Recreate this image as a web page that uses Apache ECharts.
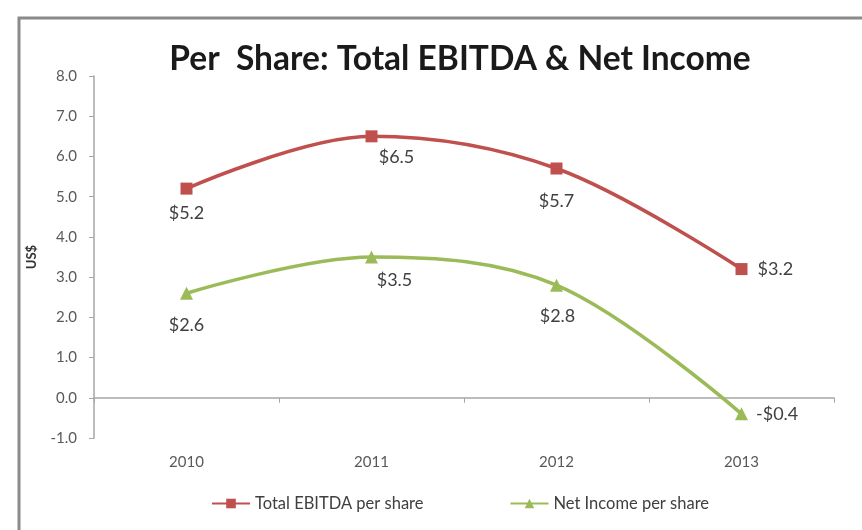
<!DOCTYPE html>
<html>
<head>
<meta charset="utf-8">
<script src="https://cdn.jsdelivr.net/npm/echarts@6/dist/echarts.min.js"></script>
<style>
  html, body { margin: 0; padding: 0; background: #ffffff; }
  #chart { width: 862px; height: 530px; }
</style>
</head>
<body>
<div id="chart"></div>
<script>
// Fiscal years on the category axis
const years = ['2010', '2011', '2012', '2013'];
// Per-share values (US$)
const ebitdaPerShare = [5.2, 6.5, 5.7, 3.2];
const netIncomePerShare = [2.6, 3.5, 2.8, -0.4];
// Value axis range
const yMin = -1;
const yMax = 8;
const yStep = 1;

// Where each data label sits relative to its point
const ebitdaLabelPlace = [
  { position: 'bottom', offset: [0, 5] },
  { position: 'bottom', offset: [25, 1] },
  { position: 'bottom', offset: [0, 13] },
  { position: 'right', offset: [5, 0] }
];
const incomeLabelPlace = [
  { position: 'bottom', offset: [0, 11] },
  { position: 'bottom', offset: [23, 3] },
  { position: 'bottom', offset: [1, 11] },
  { position: 'right', offset: [3, 0] }
];

function money(v) {
  return (v < 0 ? '-$' : '$') + Math.abs(v).toFixed(1);
}

function withLabels(values, places) {
  return values.map((v, i) => ({
    value: v,
    label: { position: places[i].position, offset: places[i].offset }
  }));
}

const FONT = 'Lato, "Open Sans", sans-serif';
const RED = '#c0504d';
const GREEN = '#9bbb59';

const chart = echarts.init(document.getElementById('chart'), null, { renderer: 'canvas' });

chart.setOption({
  backgroundColor: '#ffffff',
  animation: false,
  textStyle: { fontFamily: FONT },
  graphic: [{
    type: 'rect',
    shape: { x: 19, y: 18, width: 900, height: 600 },
    style: { fill: 'none', stroke: '#8a8a8a', lineWidth: 3 },
    silent: true,
    z: -1
  }],
  title: {
    text: 'Per  Share: Total EBITDA & Net Income',
    left: 455,
    textAlign: 'center',
    top: 37,
    textStyle: { fontFamily: FONT, fontWeight: 'bold', fontSize: 33.5, color: '#1a1a1a' }
  },
  legend: {
    top: 490,
    left: 206,
    itemGap: 86,
    itemWidth: 38,
    itemHeight: 12,
    textStyle: { fontFamily: FONT, fontSize: 16.5, color: '#404040' },
    data: ['Total EBITDA per share', 'Net Income per share']
  },
  grid: { left: 94, right: 28, top: 76, bottom: 92 },
  xAxis: [{
    type: 'category',
    data: years,
    boundaryGap: true,
    axisLine: { show: false, onZero: false },
    axisTick: { show: false },
    axisLabel: { margin: 17, fontSize: 15, color: '#595959', fontFamily: FONT }
  }, {
    type: 'category',
    data: years,
    boundaryGap: true,
    position: 'bottom',
    axisLine: { show: true, onZero: true, lineStyle: { color: '#a6a6a6', width: 1.5 } },
    axisTick: { show: true, length: 5, lineStyle: { color: '#a6a6a6' } },
    axisLabel: { show: false }
  }],
  yAxis: {
    type: 'value',
    min: yMin,
    max: yMax,
    interval: yStep,
    name: 'US$',
    nameLocation: 'middle',
    nameGap: 56,
    nameRotate: 90,
    nameTextStyle: { fontFamily: FONT, fontWeight: 'bold', fontSize: 13, color: '#333333' },
    axisLine: { show: true, lineStyle: { color: '#a6a6a6', width: 1.5 } },
    axisTick: { show: true, length: 5, lineStyle: { color: '#a6a6a6' } },
    splitLine: { show: false },
    axisLabel: {
      margin: 17,
      fontSize: 15,
      color: '#595959',
      fontFamily: FONT,
      formatter: v => v.toFixed(1)
    }
  },
  series: [{
    name: 'Total EBITDA per share',
    type: 'line',
    xAxisIndex: 0,
    smooth: 0.35,
    symbol: 'rect',
    symbolSize: 12,
    data: withLabels(ebitdaPerShare, ebitdaLabelPlace),
    lineStyle: { color: RED, width: 3.5 },
    itemStyle: { color: RED },
    label: {
      show: true,
      fontFamily: FONT,
      fontSize: 18,
      color: '#404040',
      formatter: p => money(p.value)
    }
  }, {
    name: 'Net Income per share',
    type: 'line',
    xAxisIndex: 0,
    smooth: 0.35,
    symbol: 'triangle',
    symbolSize: 13,
    data: withLabels(netIncomePerShare, incomeLabelPlace),
    lineStyle: { color: GREEN, width: 3.5 },
    itemStyle: { color: GREEN },
    label: {
      show: true,
      fontFamily: FONT,
      fontSize: 18,
      color: '#404040',
      formatter: p => money(p.value)
    }
  }]
});
</script>
</body>
</html>
